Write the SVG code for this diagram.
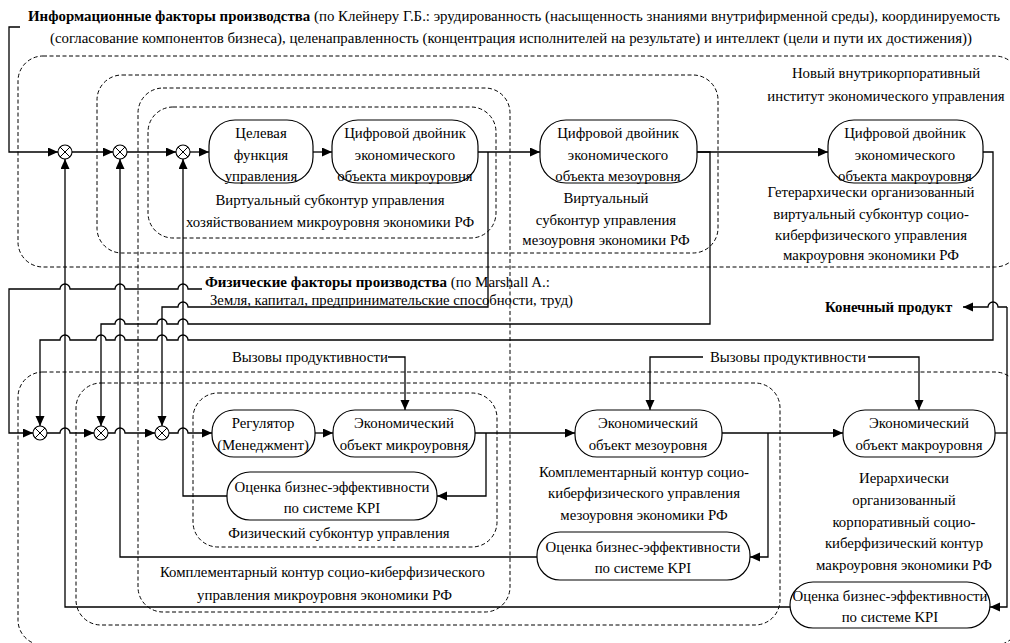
<svg xmlns="http://www.w3.org/2000/svg" width="1010" height="643" viewBox="0 0 1010 643">
<style>
text{font-family:"Liberation Serif","Times New Roman",serif;font-size:14.8px;fill:#000}
.c{text-anchor:middle}
.b{font-weight:bold}
.d{fill:none;stroke:#000;stroke-width:1;stroke-dasharray:4 2.5}
.n{fill:#fff;stroke:#000;stroke-width:1.2}
.l{fill:none;stroke:#000;stroke-width:1.3}
.a{fill:none;stroke:#000;stroke-width:1.3;marker-end:url(#ar)}
.s{fill:#fff;stroke:#000;stroke-width:1.1}
</style>
<defs>
<marker id="ar" markerUnits="userSpaceOnUse" markerWidth="11" markerHeight="10" refX="10" refY="4.5" orient="auto"><path d="M0,0 L10,4.5 L0,9 z" fill="#000"/></marker>
<g id="sum"><circle r="7" class="s"/><path d="M-5,-5 L5,5 M-5,5 L5,-5" stroke="#000" stroke-width="1"/></g>
</defs>
<rect width="1010" height="643" fill="#fff"/>

<g id="containers">
<rect class="d" x="18" y="56" width="1002" height="211" rx="25"/>
<rect class="d" x="97" y="75" width="621" height="178" rx="25"/>
<rect class="d" x="138" y="88" width="372" height="524" rx="25"/>
<rect class="d" x="148" y="107" width="348" height="131" rx="25"/>
<rect class="d" x="18" y="372" width="1002" height="273" rx="25"/>
<rect class="d" x="76" y="383" width="704" height="242" rx="25"/>
<rect class="d" x="193" y="393" width="304" height="154" rx="25"/>
</g>

<g id="labels">
<text x="28" y="21" textLength="972" lengthAdjust="spacingAndGlyphs"><tspan class="b">Информационные факторы производства</tspan> (по Клейнеру Г.Б.: эрудированность (насыщенность знаниями внутрифирменной среды), координируемость</text>
<text x="50" y="43" textLength="922" lengthAdjust="spacingAndGlyphs">(согласование компонентов бизнеса), целенаправленность (концентрация исполнителей на результате) и интеллект (цели и пути их достижения))</text>
<text class="c" x="886" y="78">Новый внутрикорпоративный</text>
<text class="c" x="886" y="101">институт экономического управления</text>
<text class="c" x="330" y="205">Виртуальный субконтур управления</text>
<text class="c" x="330" y="227">хозяйствованием микроуровня экономики РФ</text>
<text class="c" x="606" y="203">Виртуальный</text>
<text class="c" x="606" y="225">субконтур управления</text>
<text class="c" x="606" y="245">мезоуровня экономики РФ</text>
<text class="c" x="871" y="197">Гетерархически организованный</text>
<text class="c" x="871" y="219">виртуальный субконтур социо-</text>
<text class="c" x="871" y="240">киберфизического управления</text>
<text class="c" x="871" y="260">макроуровня экономики РФ</text>
<text x="205" y="287" textLength="345" lengthAdjust="spacingAndGlyphs"><tspan class="b">Физические факторы производства</tspan> (по Marshall A.:</text>
<text x="210" y="305" textLength="363" lengthAdjust="spacingAndGlyphs">Земля, капитал, предпринимательские способности, труд)</text>
<text class="b" x="825" y="312">Конечный продукт</text>
<text x="232" y="362">Вызовы продуктивности</text>
<text x="710" y="362">Вызовы продуктивности</text>
<text class="c" x="339" y="538">Физический субконтур управления</text>
<text class="c" x="644" y="477">Комплементарный контур социо-</text>
<text class="c" x="644" y="498">киберфизического управления</text>
<text class="c" x="644" y="520">мезоуровня экономики РФ</text>
<text class="c" x="904" y="483">Иерархически</text>
<text class="c" x="904" y="505">организованный</text>
<text class="c" x="904" y="527">корпоративный социо-</text>
<text class="c" x="904" y="548">киберфизический контур</text>
<text class="c" x="904" y="570">макроуровня экономики РФ</text>
<text x="160" y="577" textLength="325" lengthAdjust="spacingAndGlyphs">Комплементарный контур социо-киберфизического</text>
<text x="197" y="600" textLength="255" lengthAdjust="spacingAndGlyphs">управления микроуровня экономики РФ</text>
</g>

<g id="connectors">
<path class="a" d="M20,27 H9 V152 H58"/>
<path class="a" d="M72,152 H113"/>
<path class="a" d="M127,152 H176"/>
<path class="a" d="M190,152 H209"/>
<path class="a" d="M313,152 H332"/>
<path class="a" d="M478,152 H540"/>
<path class="a" d="M697,152 H828"/>
<path class="a" d="M488,152 V307 H188 A5,5 0 0 0 178,307 H162 V426"/>
<path class="a" d="M697,152 H710 V324 H188 A5,5 0 0 0 178,324 H167 A5,5 0 0 0 157,324 H125 A5,5 0 0 0 115,324 H101 V426"/>
<path class="a" d="M983,152 H993 V340 H188 A5,5 0 0 0 178,340 H167 A5,5 0 0 0 157,340 H125 A5,5 0 0 0 115,340 H106 A5,5 0 0 0 96,340 H70 A5,5 0 0 0 60,340 H40 V426"/>
<path class="a" d="M202,289 H188 A5,5 0 0 0 178,289 H125 A5,5 0 0 0 115,289 H70 A5,5 0 0 0 60,289 H9 V433 H33"/>
<path class="a" d="M47,433 H60 A5,5 0 0 1 70,433 H94"/>
<path class="a" d="M108,433 H115 A5,5 0 0 1 125,433 H155"/>
<path class="a" d="M169,433 H178 A5,5 0 0 1 188,433 H212"/>
<path class="a" d="M315,433 H333"/>
<path class="a" d="M475,433 H575"/>
<path class="a" d="M486,433 V496 H437"/>
<path class="a" d="M722,433 H843"/>
<path class="a" d="M768,433 V557 H750"/>
<path class="l" d="M995,433 H1007"/>
<path class="a" d="M1007,307 V607 H990"/>
<path class="a" d="M1007,307 H998 A5,5 0 0 0 988,307 H963"/>
<path class="a" d="M227,496 H183 V159"/>
<path class="a" d="M537,557 H120 V159"/>
<path class="a" d="M790,607 H65 V159"/>
<path class="a" d="M388,357 H405 V410"/>
<path class="a" d="M703,357 H650 V410"/>
<path class="a" d="M868,357 H919 V410"/>
</g>

<g id="sum-top-1"><use href="#sum" x="65" y="152"/></g>
<g id="sum-top-2"><use href="#sum" x="120" y="152"/></g>
<g id="sum-top-3"><use href="#sum" x="183" y="152"/></g>
<g id="sum-bot-1"><use href="#sum" x="40" y="433"/></g>
<g id="sum-bot-2"><use href="#sum" x="101" y="433"/></g>
<g id="sum-bot-3"><use href="#sum" x="162" y="433"/></g>

<g id="node-target">
<rect class="n" x="209" y="120" width="104" height="63" rx="26"/>
<text class="c" x="261" y="138">Целевая</text>
<text class="c" x="261" y="160">функция</text>
<text class="c" x="261" y="181">управления</text>
</g>
<g id="node-twin-micro">
<rect class="n" x="332" y="120" width="146" height="63" rx="26"/>
<text class="c" x="405" y="138">Цифровой двойник</text>
<text class="c" x="405" y="160">экономического</text>
<text class="c" x="405" y="181">объекта микроуровня</text>
</g>
<g id="node-twin-meso">
<rect class="n" x="540" y="120" width="157" height="63" rx="26"/>
<text class="c" x="618" y="138">Цифровой двойник</text>
<text class="c" x="618" y="160">экономического</text>
<text class="c" x="618" y="181">объекта мезоуровня</text>
</g>
<g id="node-twin-macro">
<rect class="n" x="828" y="120" width="155" height="63" rx="26"/>
<text class="c" x="905" y="138">Цифровой двойник</text>
<text class="c" x="905" y="160">экономического</text>
<text class="c" x="905" y="181">объекта макроуровня</text>
</g>
<g id="node-regulator">
<rect class="n" x="212" y="410" width="103" height="47" rx="22"/>
<text class="c" x="263" y="428">Регулятор</text>
<text class="c" x="263" y="450">(Менеджмент)</text>
</g>
<g id="node-econ-micro">
<rect class="n" x="333" y="410" width="142" height="47" rx="22"/>
<text class="c" x="404" y="428">Экономический</text>
<text class="c" x="404" y="450">объект микроуровня</text>
</g>
<g id="node-econ-meso">
<rect class="n" x="575" y="410" width="147" height="47" rx="22"/>
<text class="c" x="648" y="428">Экономический</text>
<text class="c" x="648" y="450">объект мезоуровня</text>
</g>
<g id="node-econ-macro">
<rect class="n" x="843" y="410" width="152" height="47" rx="22"/>
<text class="c" x="919" y="428">Экономический</text>
<text class="c" x="919" y="450">объект макроуровня</text>
</g>
<g id="node-kpi-micro">
<rect class="n" x="227" y="472" width="210" height="48" rx="23"/>
<text class="c" x="332" y="492">Оценка бизнес-эффективности</text>
<text class="c" x="332" y="513">по системе KPI</text>
</g>
<g id="node-kpi-meso">
<rect class="n" x="537" y="532" width="213" height="48" rx="23"/>
<text class="c" x="643" y="552">Оценка бизнес-эффективности</text>
<text class="c" x="643" y="573">по системе KPI</text>
</g>
<g id="node-kpi-macro">
<rect class="n" x="790" y="582" width="200" height="46" rx="23"/>
<text class="c" x="890" y="601">Оценка бизнес-эффективности</text>
<text class="c" x="890" y="622">по системе KPI</text>
</g>
</svg>
